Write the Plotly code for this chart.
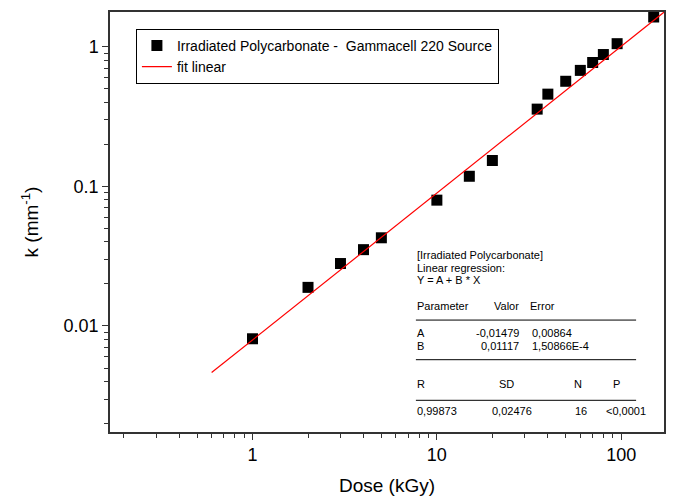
import plotly.graph_objects as go

dose = [1, 2, 3, 4, 5, 10, 15, 20, 35, 40, 50, 60, 70, 80, 95, 150]
k_vals = [0.0081, 0.0189, 0.0280, 0.0352, 0.0428, 0.0796, 0.118, 0.153,
          0.357, 0.457, 0.565, 0.676, 0.770, 0.878, 1.05, 1.63]
fit_x = [0.6, 171]
fit_y = [0.00464, 1.77]

x_major = [1, 10, 100]
x_labels = ["1", "10", "100"]
y_major = [0.01, 0.1, 1]
y_labels = ["0.01", "0.1", "1"]
x_minor = [m * d for d in (0.1, 1, 10) for m in range(2, 10)]
y_minor = [m * d for d in (0.001, 0.01, 0.1, 1) for m in range(2, 10)]

W, H = 676, 503
ML, MR, MT, MB = 110, 10, 10, 69
PW, PH = W - ML - MR, H - MT - MB


def px(x):
    return (x - ML) / PW


def py(y):
    return 1 - (y - MT) / PH


FONT = "Liberation Sans, Arial, sans-serif"

fig = go.Figure()
fig.add_trace(go.Scatter(
    x=dose, y=k_vals, mode="markers",
    name="Irradiated Polycarbonate -  Gammacell 220 Source",
    marker=dict(symbol="square", size=11, color="black"),
))
fig.add_trace(go.Scatter(
    x=fit_x, y=fit_y, mode="lines", name="fit linear",
    line=dict(color="red", width=1.2),
))

axis_common = dict(
    type="log", showgrid=False, zeroline=False,
    showline=True, linecolor="#333", linewidth=1.5, mirror=True,
    ticks="outside", ticklen=6, tickwidth=1, tickcolor="#333",
    tickfont=dict(family=FONT, size=18, color="black"),
)

fig.update_xaxes(
    **axis_common,
    range=[-0.773, 2.232],
    tickvals=x_major, ticktext=x_labels,
    minor=dict(tickvals=x_minor, ticks="outside", ticklen=4, tickcolor="#333"),
    title=dict(text="Dose (kGy)", font=dict(family=FONT, size=19, color="black"), standoff=14),
)
fig.update_yaxes(
    **axis_common,
    range=[-2.759, 0.248],
    tickvals=y_major, ticktext=y_labels,
    minor=dict(tickvals=y_minor, ticks="outside", ticklen=4, tickcolor="#333"),
    title=dict(text="k (mm<sup>-1</sup>)", font=dict(family=FONT, size=19, color="black"), standoff=20),
)

annotations = []


def txt(x, y, s, anchor="left"):
    annotations.append(dict(
        xref="paper", yref="paper", x=px(x), y=py(y), text=s, showarrow=False,
        xanchor=anchor, yanchor="middle",
        font=dict(family=FONT, size=11, color="black"),
    ))


txt(416, 255, "[Irradiated Polycarbonate]")
txt(416, 268, "Linear regression:")
txt(416, 281, "Y = A + B * X")
txt(416, 307, "Parameter")
txt(522, 307, "Valor", "right")
txt(530, 307, "Error")
txt(416, 334, "A")
txt(522, 334, "-0,01479", "right")
txt(532, 334, "0,00864")
txt(416, 347, "B")
txt(522, 347, "0,01117", "right")
txt(532, 347, "1,50866E-4")
txt(416, 386, "R")
txt(498, 386, "SD")
txt(574, 386, "N")
txt(613, 386, "P")
txt(416, 413, "0,99873")
txt(491, 413, "0,02476")
txt(575, 413, "16")
txt(606, 413, "<0,0001")

shapes = []
for yy in (321, 361, 402):
    shapes.append(dict(type="line", xref="paper", yref="paper",
                       x0=px(417), x1=px(638), y0=py(yy), y1=py(yy),
                       line=dict(color="black", width=1)))

fig.update_layout(
    width=W, height=H,
    margin=dict(l=ML, r=MR, t=MT, b=MB),
    paper_bgcolor="white", plot_bgcolor="white",
    annotations=annotations, shapes=shapes,
    legend=dict(
        x=px(136), y=py(27), xanchor="left", yanchor="top",
        bordercolor="black", borderwidth=1, bgcolor="white",
        font=dict(family=FONT, size=14, color="black"),
        tracegroupgap=0, itemwidth=30,
    ),
    font=dict(family=FONT, color="black"),
)

fig.write_html("out.html")
